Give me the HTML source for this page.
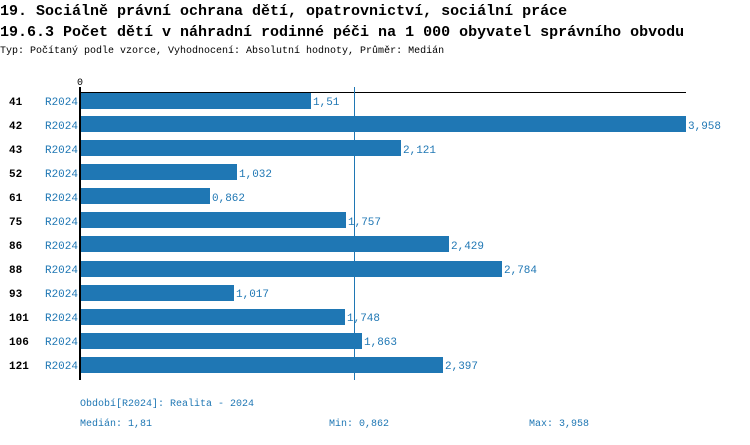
<!DOCTYPE html>
<html><head><meta charset="utf-8"><style>
body{margin:0;background:#fff;width:750px;height:440px;overflow:hidden}
svg text{font-family:"Liberation Mono",monospace}
</style></head><body>
<svg width="750" height="440" xmlns="http://www.w3.org/2000/svg">
<text x="0" y="15" font-size="15" font-weight="bold" fill="#000">19. Sociálně právní ochrana dětí, opatrovnictví, sociální práce</text>
<text x="0" y="36" font-size="15" font-weight="bold" fill="#000">19.6.3 Počet dětí v náhradní rodinné péči na 1 000 obyvatel správního obvodu</text>
<text x="0" y="53" font-size="10" fill="#000">Typ: Počítaný podle vzorce, Vyhodnocení: Absolutní hodnoty, Průměr: Medián</text>
<text x="77" y="85" font-size="10" fill="#000">0</text>
<g fill="#1f77b4">
<rect x="81" y="93" width="230" height="16"/>
<rect x="81" y="116" width="605" height="16"/>
<rect x="81" y="140" width="320" height="16"/>
<rect x="81" y="164" width="156" height="16"/>
<rect x="81" y="188" width="129" height="16"/>
<rect x="81" y="212" width="265" height="16"/>
<rect x="81" y="236" width="368" height="16"/>
<rect x="81" y="261" width="421" height="16"/>
<rect x="81" y="285" width="153" height="16"/>
<rect x="81" y="309" width="264" height="16"/>
<rect x="81" y="333" width="281" height="16"/>
<rect x="81" y="357" width="362" height="16"/>
</g>
<line x1="80" y1="92.5" x2="686" y2="92.5" stroke="#000" stroke-width="1"/>
<line x1="80" y1="87" x2="80" y2="380" stroke="#000" stroke-width="2"/>
<line x1="354.5" y1="87" x2="354.5" y2="380" stroke="#1f77b4" stroke-width="1"/>
<g font-size="11" font-weight="bold" fill="#000">
<text x="9" y="105">41</text><text x="9" y="129">42</text><text x="9" y="153">43</text><text x="9" y="177">52</text><text x="9" y="201">61</text><text x="9" y="225">75</text><text x="9" y="249">86</text><text x="9" y="273">88</text><text x="9" y="297">93</text><text x="9" y="321">101</text><text x="9" y="345">106</text><text x="9" y="369">121</text>
</g>
<g font-size="11" fill="#1f77b4" text-anchor="end">
<text x="78" y="105">R2024</text><text x="78" y="129">R2024</text><text x="78" y="153">R2024</text><text x="78" y="177">R2024</text><text x="78" y="201">R2024</text><text x="78" y="225">R2024</text><text x="78" y="249">R2024</text><text x="78" y="273">R2024</text><text x="78" y="297">R2024</text><text x="78" y="321">R2024</text><text x="78" y="345">R2024</text><text x="78" y="369">R2024</text>
</g>
<g font-size="11" fill="#1f77b4">
<text x="313" y="105">1,51</text><text x="688" y="129">3,958</text><text x="403" y="153">2,121</text><text x="239" y="177">1,032</text><text x="212" y="201">0,862</text><text x="348" y="225">1,757</text><text x="451" y="249">2,429</text><text x="504" y="273">2,784</text><text x="236" y="297">1,017</text><text x="347" y="321">1,748</text><text x="364" y="345">1,863</text><text x="445" y="369">2,397</text>
</g>
<g font-size="10" fill="#1f77b4">
<text x="80" y="406">Období[R2024]: Realita - 2024</text>
<text x="80" y="426">Medián: 1,81</text>
<text x="329" y="426">Min: 0,862</text>
<text x="529" y="426">Max: 3,958</text>
</g>
</svg>
</body></html>
